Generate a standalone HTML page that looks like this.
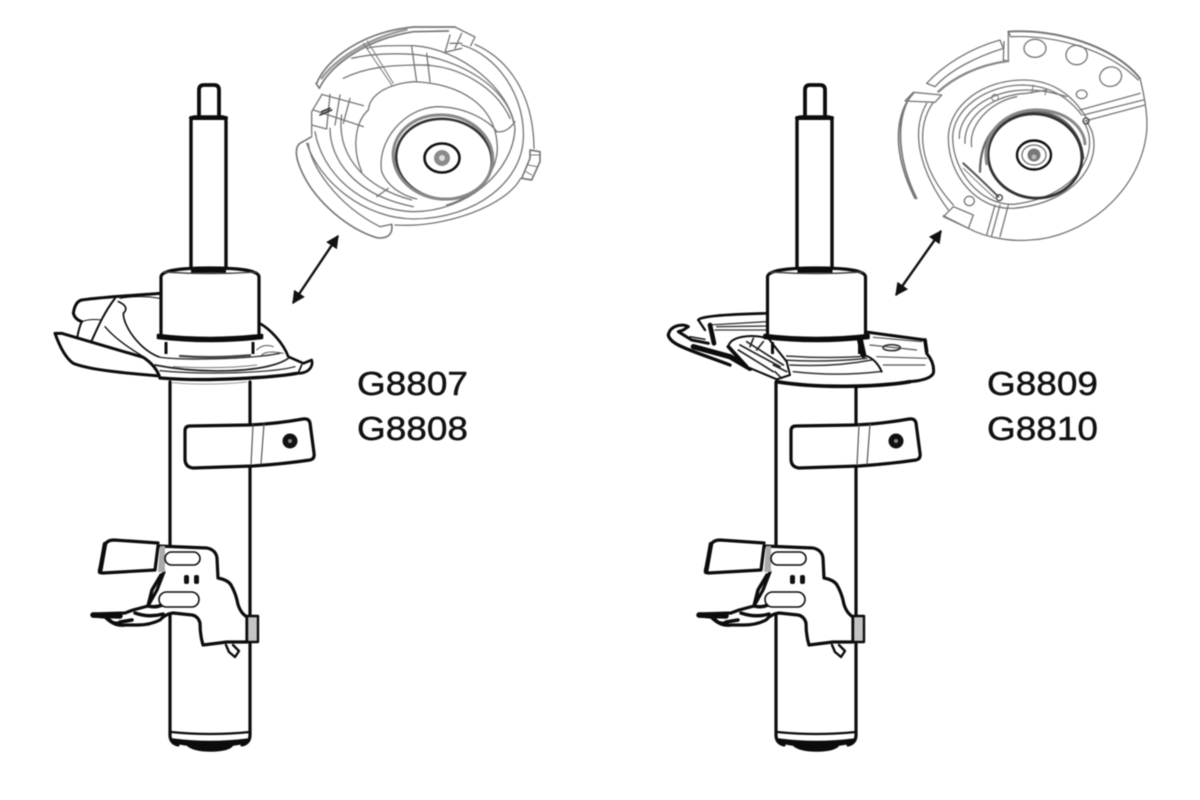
<!DOCTYPE html>
<html><head><meta charset="utf-8"><style>
html,body{margin:0;padding:0;background:#fff}
svg{display:block;filter:blur(.5px)}
text{font-family:"Liberation Sans",sans-serif;font-size:33px;fill:#111;stroke:#111;stroke-width:.45px}
</style></head><body>
<svg width="1200" height="800" viewBox="0 0 1200 800" xmlns="http://www.w3.org/2000/svg">
<defs>
<g id="strut" fill="none" stroke="#0c0c0c" stroke-width="3.2" stroke-linejoin="round" stroke-linecap="round">
  <path d="M199 115V90q0-5 5-5h10q5 0 5 5V115" stroke-width="3.8"/>
  <path d="M191 270V121q0-4 4-4h27q4 0 4 4V270" stroke-width="3.4"/>
  <path d="M191 118H226" stroke-width="4"/>
  <path d="M170 382V735q0 8 8 10" stroke-width="3.2"/>
  <path d="M250 382V735q0 8-8 10"/>
  <path d="M171 732q39 4 79 0" stroke-width="2.2"/>
  <path d="M172 739q38 5 77 0q-3 5-16 6q-4 6-22 6t-24-6q-12-1-15-6z" fill="#0c0c0c" stroke-width="1.4"/>
  <path d="M190 426q-5 0-5 5v28q0 8 8 9l60-2q30-2 57-6q5-1 4-7l-4-30q-1-5-7-4q-28 5-55 6z" fill="#fff"/>
  <path d="M253 425l-2 40M264 424l-3 40" stroke="#555" stroke-width="1.2"/>
  <circle cx="290" cy="441" r="7.5" fill="#111" stroke="none"/>
  <circle cx="290" cy="441" r="2" fill="#888" stroke="none"/>
  <path d="M158 546L207 548Q216 550 217 558L218 578Q228 580 231 585Q235 592 237 600Q239 612 247 617V642L227 642L203 645Q200 635 200 623Q198 616 192 615L173 613Q165 614 160 620Q150 625 138 625L125 625Q115 627 105 617L93 616V614L125 613L133 610L148 606L157 590L164 572" fill="#fff"/>
  <path d="M158 546L155 570L103 573Q98 573 100 568L105 545Q107 540 114 540L158 543" fill="#fff" stroke-width="3.2"/>
  <path d="M160 546H165V572H158Z" fill="#aaa" stroke="none"/>
  <path d="M100 572l5-28" stroke-width="4.5"/>
  <path d="M93 615L120 616" stroke-width="5.5"/>
  <path d="M122 622q-9 4-14-4M120 622l12-2M135 613q14 5 28 1" stroke-width="3.5"/>
  <path d="M161 575L152 590L148 606Q155 608 162 605" stroke-width="3.5"/>
  <path d="M247 616H258V642H247Z" fill="#c4c4c4" stroke-width="2.4"/>
  <path d="M233 645L239 651L235 657L229 652L226 645" stroke-width="2.4" fill="#fff"/>
  <rect x="165" y="552" width="35" height="13" rx="6.5" fill="#fff" stroke-width="1.6"/>
  <rect x="159" y="592" width="40" height="15" rx="7.5" fill="#fff" stroke-width="1.6"/>
  <rect x="184" y="575" width="5" height="9" rx="2" fill="#111" stroke="none"/>
  <rect x="194" y="575" width="5" height="9" rx="2" fill="#111" stroke="none"/>
</g>
<g id="collar" fill="none" stroke="#0c0c0c" stroke-linejoin="round">
  <path d="M161 335V277q0-9 49-9t49 9V335" fill="#fff" stroke-width="3.2"/>
  <path d="M163 272q47 3 94 0" stroke-width="1.4" stroke="#444"/>
  <path d="M191 271H226" stroke-width="3.4"/>
  <path d="M158 335q52 6 104 0v3q-52 6-104 0z" fill="#0c0c0c" stroke-width="2.6"/>
  <path d="M166 342V354M253 342V354" stroke-width="3"/>
</g>
<marker id="ah" viewBox="0 0 10 10" refX="9" refY="5" markerWidth="5.4" markerHeight="5.4" orient="auto-start-reverse"><path d="M0 0L10 5L0 10Z" fill="#111"/></marker>
</defs>

<!-- LEFT STRUT -->
<use href="#strut"/>
<g transform="translate(40 250) scale(.33333)" fill="none" stroke="#0c0c0c" stroke-linejoin="round" stroke-linecap="round">
  <path d="M360 130C300 135 200 140 125 150Q105 155 100 190Q105 208 125 215C115 240 110 260 115 265L150 275L310 322L360 322V130Z" fill="#fff" stroke="none"/>
  <path d="M360 130C300 135 200 140 125 150Q105 155 100 190Q105 208 125 215" stroke-width="9"/>
  <path d="M125 215Q115 240 112 262" stroke-width="6"/>
  <path d="M225 145C190 190 170 240 155 272" stroke-width="6"/>
  <path d="M125 215Q150 205 185 210" stroke-width="3"/>
  <path d="M235 155Q270 170 250 190C250 230 300 300 360 322" stroke-width="5"/>
  <path d="M195 230C220 260 260 290 310 320" stroke-width="4"/>
  <path d="M240 145Q300 135 360 145" stroke-width="3"/>
  <path d="M655 218C690 235 730 280 745 320L790 340L815 330Q820 345 808 358Q795 372 765 370C720 388 500 395 358 382L340 340L380 300L655 300Z" fill="#fff" stroke="none"/>
  <path d="M655 218C690 235 730 280 745 320L790 340L815 330Q820 345 808 358Q795 372 765 370" stroke-width="8"/>
  <path d="M360 322C420 330 620 330 720 310" stroke-width="4" stroke="#333"/>
  <path d="M420 318Q520 326 630 316" stroke-width="7" stroke="#444"/>
  <path d="M345 345C480 372 680 370 745 325" stroke-width="5" stroke="#222"/>
  <path d="M360 362C500 376 700 368 765 350" stroke-width="4" stroke="#333"/>
  <path d="M400 350Q550 358 650 345" stroke-width="3" stroke="#777"/>
  <path d="M650 300Q670 280 700 290M665 315Q680 300 730 310" stroke-width="3" stroke="#555"/>
  <path d="M785 345L775 368" stroke-width="5"/>
  <path d="M360 384C500 396 700 382 770 370" stroke-width="10"/>
  <path d="M45 250L65 250L310 322Q345 345 358 378C260 370 150 360 100 340Q70 320 45 250Z" fill="#fff" stroke-width="9"/>
  <path d="M395 398Q500 408 620 396" stroke-width="3" stroke="#999"/>
</g>
<use href="#collar"/>
<path d="M338 236L293 303" stroke="#111" stroke-width="2.4" fill="none" marker-start="url(#ah)" marker-end="url(#ah)"/>

<!-- LEFT MOUNT -->
<g transform="translate(280 15) scale(.33333)" fill="none" stroke="#777" stroke-width="4" stroke-linecap="round" stroke-linejoin="round">
  <path d="M110 205C140 130 250 50 400 36L525 36M118 220C150 150 260 72 400 50L505 48M108 205L118 220" stroke-width="5"/>
  <path d="M125 190C165 135 260 70 380 44" stroke="#999" stroke-width="7"/>
  <path d="M525 36L585 66L572 92M495 112L510 60M525 100L545 55M495 112L545 100M510 85L545 85" />
  <path d="M585 88C680 130 760 230 762 400"/>
  <path d="M545 90C650 120 735 240 730 370C725 500 590 610 400 612C250 610 120 500 80 385"/>
  <path d="M260 100C300 90 350 92 400 92C540 100 690 220 705 340C700 470 560 590 400 590C240 585 125 470 105 350"/>
  <path d="M345 630C500 640 680 570 722 490"/>
  <path d="M215 130C280 115 340 115 400 118C540 130 680 220 700 320"/>
  <path d="M265 285C270 230 340 205 400 200C540 205 650 270 652 400C650 470 600 540 500 570"/>
  <path d="M190 190C260 155 340 150 420 150C540 150 650 220 690 310"/>
  <path d="M305 470C290 380 370 280 470 275C570 275 640 330 650 350"/>
  <path d="M305 470C320 510 360 540 410 552"/>
  <path d="M650 350Q680 355 705 320"/>
  <path d="M250 85L335 210M262 78L340 205" stroke-width="3"/>
  <path d="M395 95L410 200M440 115L450 200M408 150H450"/>
  <path d="M125 238L250 272M100 285L250 335M95 330L140 342M95 290V360M125 240L95 290M150 238L140 340M180 240L165 330M210 250L190 325"/>
  <path d="M125 290L150 280M120 300L155 285" stroke="#333" stroke-width="5"/>
  <path d="M185 300C170 400 230 510 395 555"/>
  <path d="M150 340C150 430 220 540 400 575"/>
  <path d="M325 520L290 545"/>
  <path d="M265 285C225 320 215 400 245 470"/>
  <path d="M95 365L60 385C40 400 50 440 70 480C110 560 200 640 290 668C320 672 340 660 335 628" stroke-width="5"/>
  <path d="M85 385C90 450 170 570 300 635L335 628"/>
  <path d="M725 490L750 430L750 405L780 410L780 440L755 495Z" stroke-width="5"/>
  <path d="M738 470L755 480M745 450L770 455M750 420H780" stroke-width="3"/>
</g>
<ellipse cx="444" cy="159" rx="48" ry="40" fill="none" stroke="#333" stroke-width="2.6" transform="rotate(8 444 159)"/>
<ellipse cx="443" cy="157" rx="50" ry="42" fill="none" stroke="#888" stroke-width="3" transform="rotate(8 443 157)"/>
<ellipse cx="442" cy="158" rx="17.5" ry="14.5" fill="none" stroke="#111" stroke-width="2.6"/>
<circle cx="442" cy="158" r="8" fill="#8a8a8a"/>
<circle cx="442" cy="158" r="3" fill="#ddd"/>

<text x="357" y="395" textLength="111" lengthAdjust="spacingAndGlyphs">G8807</text>
<text x="357" y="440" textLength="111" lengthAdjust="spacingAndGlyphs">G8808</text>

<!-- RIGHT STRUT -->
<g transform="translate(606 0)"><use href="#strut"/></g>
<g transform="translate(650 250) scale(.33333)" fill="none" stroke="#0c0c0c" stroke-linejoin="round" stroke-linecap="round">
  <path d="M145 210Q150 195 350 190V250L195 260L165 240Z" fill="#fff" stroke="none"/>
  <path d="M145 210Q150 195 350 190" stroke-width="8"/>
  <path d="M145 210L165 240" stroke-width="7"/>
  <path d="M175 225L350 215M195 240L350 240M200 230L350 228" stroke-width="4" stroke="#333"/>
  <path d="M180 225L192 280" stroke-width="14"/>
  <path d="M55 255C60 225 100 220 115 230L100 240L85 245L125 270L175 280" stroke-width="9"/>
  <path d="M120 260L165 268" stroke-width="4"/>
  <path d="M55 255C60 285 120 300 240 345" stroke-width="10"/>
  <path d="M130 290L240 320L300 355" stroke-width="16"/>
  <path d="M640 245L825 270L830 310Q855 340 850 370Q840 390 780 395C650 415 480 410 380 395L350 300L640 290Z" fill="#fff" stroke="none"/>
  <path d="M640 245L825 270L830 310Q855 340 850 370Q840 390 780 395" stroke-width="9"/>
  <path d="M825 270L830 305" stroke-width="11"/>
  <path d="M380 395C500 415 680 412 780 395" stroke-width="11"/>
  <path d="M410 318Q520 326 630 320M420 345Q550 352 665 330M430 365Q560 380 690 365M400 330Q520 338 650 325" stroke-width="4.5" stroke="#333"/>
  <path d="M630 270L640 315" stroke-width="18"/>
  <path d="M650 318Q680 330 695 365" stroke-width="6"/>
  <path d="M660 285L800 300M700 345L825 345M680 320L830 325M670 262L815 275" stroke-width="3.5" stroke="#555"/>
  <ellipse cx="725" cy="293" rx="26" ry="9" stroke-width="5" stroke="#333"/>
  <path d="M235 290C240 260 300 250 355 265L410 335L420 375L380 388L290 350Z" fill="#fff" stroke-width="6"/>
  <path d="M235 290L290 350" stroke-width="11"/>
  <path d="M270 285L390 350M290 275L400 345M265 300L370 365M310 265L300 290M340 275L320 300M370 345L410 365M375 365L395 385" stroke-width="5" stroke="#222"/>
</g>
<g transform="translate(606.5 0)"><use href="#collar"/></g>
<path d="M941 231L896 295" stroke="#111" stroke-width="2.4" fill="none" marker-start="url(#ah)" marker-end="url(#ah)"/>

<!-- RIGHT MOUNT -->
<g transform="translate(880 15) scale(.33333)" fill="none" stroke="#777" stroke-width="4" stroke-linecap="round" stroke-linejoin="round">
  <path d="M385 50C520 40 700 90 780 190" stroke-width="6"/>
  <path d="M385 50L392 65C520 60 680 100 775 195"/>
  <path d="M780 190Q805 290 800 350C780 540 600 670 450 675C400 680 320 670 265 640L190 602"/>
  <path d="M385 50L385 138L370 135L372 80"/>
  <path d="M140 205C190 150 270 100 360 75L370 100C290 125 210 165 165 215Z"/>
  <path d="M385 138C290 150 220 190 175 230" stroke-width="7" stroke="#888"/>
  <path d="M100 232L185 240L165 262L75 258Z" fill="#fff" stroke="#777"/>
  <path d="M100 235C50 290 30 400 105 550M90 245C45 320 55 440 110 550" stroke-width="5"/>
  <path d="M140 265C90 350 120 470 205 585M160 262C110 330 110 450 220 570"/>
  <path d="M220 575L280 600L265 640L190 605Z"/>
  <path d="M345 570L320 660M360 570L335 662M385 570L360 665"/>
  <path d="M600 285L780 235M610 300L790 255M615 318L795 270"/>
  <ellipse cx="465" cy="100" rx="33" ry="27"/>
  <ellipse cx="590" cy="120" rx="32" ry="29"/>
  <ellipse cx="692" cy="185" rx="33" ry="29" transform="rotate(-15 692 185)"/>
  <ellipse cx="605" cy="238" rx="16" ry="13"/>
  <ellipse cx="268" cy="558" rx="15" ry="14"/>
  <path d="M620 320C680 400 620 560 400 580C290 585 205 480 205 370C205 270 310 195 430 195C500 195 570 225 620 310"/>
  <path d="M610 320C665 400 600 545 400 568C300 570 220 470 218 370C218 280 320 210 430 210C500 212 560 240 605 300"/>
  <path d="M238 370C235 300 320 225 440 225C480 225 510 230 560 245"/>
  <path d="M255 385C250 310 330 240 440 235L500 225"/>
  <path d="M275 395C265 330 330 260 410 245"/>
  <path d="M460 210L455 235M500 222L495 240" stroke-width="3"/>
  <circle cx="345" cy="248" r="10" stroke-width="3"/>
  <circle cx="618" cy="318" r="9" stroke="#444"/>
  <circle cx="358" cy="548" r="9" stroke="#444"/>
  <path d="M250 445Q300 490 355 545" stroke="#555" stroke-width="6"/>
  <path d="M250 460Q290 500 345 550" stroke-width="3"/>
  <path d="M300 470C300 360 360 300 460 290C540 290 600 340 610 430" stroke="#666" stroke-width="7"/>
</g>
<ellipse cx="1035" cy="156" rx="47" ry="42" fill="none" stroke="#333" stroke-width="2.8" transform="rotate(8 1035 156)"/>
<path d="M987 165C980 130 1010 108 1040 110C1070 112 1085 130 1085 145" fill="none" stroke="#888" stroke-width="3"/>
<ellipse cx="1034" cy="155" rx="17" ry="14.5" fill="none" stroke="#111" stroke-width="2.4"/>
<ellipse cx="1034" cy="155" rx="12" ry="10" fill="none" stroke="#666" stroke-width="1.2"/>
<circle cx="1034" cy="155" r="6.5" fill="#777"/>
<circle cx="1034" cy="157" r="2.5" fill="#bbb"/>

<text x="987" y="395" textLength="111" lengthAdjust="spacingAndGlyphs">G8809</text>
<text x="987" y="440" textLength="111" lengthAdjust="spacingAndGlyphs">G8810</text>
</svg>
</body></html>
